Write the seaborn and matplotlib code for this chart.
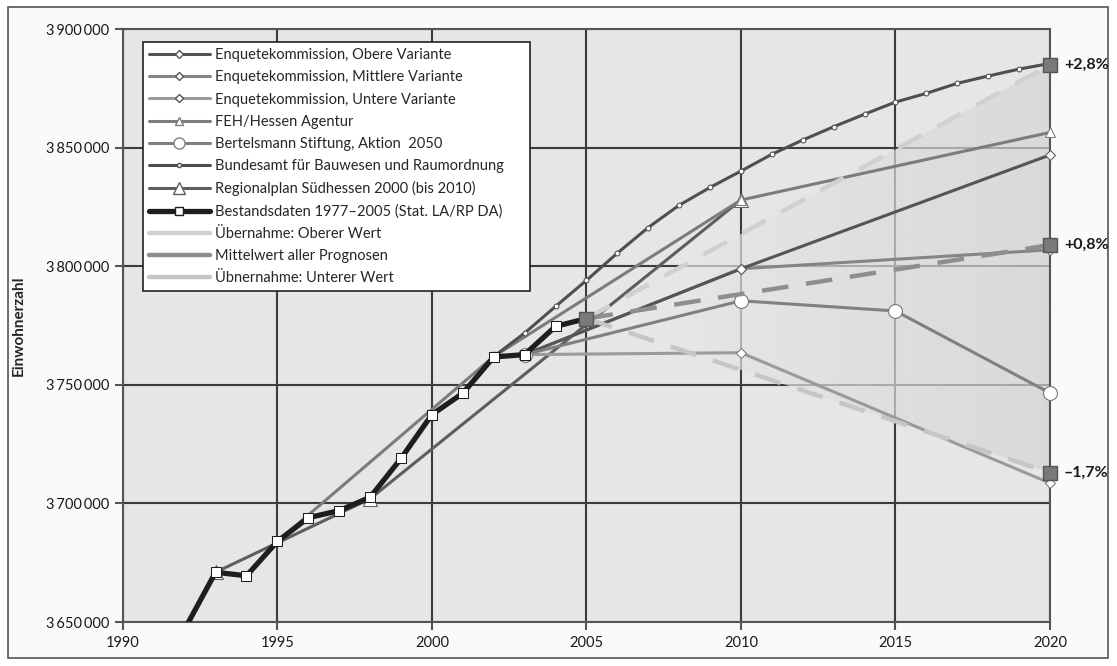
import numpy as np
import seaborn as sns
import matplotlib
import matplotlib.pyplot as plt
from matplotlib.lines import Line2D
from matplotlib.patches import Rectangle
from matplotlib.ticker import FuncFormatter, MultipleLocator
matplotlib.use("Agg")

# Bestandsdaten 1992-2005
best_years = [1992, 1993, 1994, 1995, 1996, 1997, 1998, 1999, 2000, 2001, 2002, 2003, 2004, 2005]
best_vals = [3647000, 3671000, 3669500, 3684000, 3694000, 3697000, 3702600, 3719000,
             3737500, 3746500, 3761800, 3762800, 3774700, 3778000]

# Bundesamt für Bauwesen und Raumordnung (jährlich)
bbr_years = list(range(2002, 2021))
bbr_vals = [3762000, 3771900, 3783100, 3794100, 3805600, 3816400, 3825800, 3833300,
            3840200, 3847300, 3853300, 3858900, 3864200, 3869300, 3873000, 3877200,
            3880300, 3883200, 3885600]

enq_years = [2003, 2010, 2020]
enq_obere = [3762800, 3799000, 3847000]
enq_mittlere = [3762800, 3799000, 3807000]
enq_untere = [3762800, 3763600, 3708600]

feh_years = [1995, 2002, 2010, 2020]
feh_vals = [3684000, 3762000, 3828000, 3856500]

bert_years = [2003, 2010, 2015, 2020]
bert_vals = [3762800, 3785500, 3781200, 3746600]

reg_years = [1993, 1998, 2010]
reg_vals = [3671000, 3702000, 3828000]

trend_years = [2005, 2020]
upper_vals = [3778000, 3885000]
mean_vals = [3778000, 3809000]
lower_vals = [3778000, 3713000]
pct_labels = ["+2,8%", "+0,8%", "\u20131,7%"]

sns.set_style("white")
plt.rcParams["font.family"] = ["Lato", "DejaVu Sans"]

fig = plt.figure(figsize=(11.17, 6.66), dpi=100)
fig.patch.set_facecolor("white")
ax = fig.add_axes([0.110, 0.066, 0.830, 0.890])
ax.set_facecolor("#e6e6e6")

# schattierter Bereich zwischen oberem und unterem Wert
poly = ax.fill_between(trend_years, lower_vals, upper_vals, facecolor="none", edgecolor="none")
grad = np.linspace(0.92, 0.83, 256).reshape(1, -1)
grad = np.vstack([grad, grad])
im = ax.imshow(grad, cmap="gray", vmin=0, vmax=1, aspect="auto",
               extent=[2005, 2020, 3700000, 3890000], alpha=0.7, zorder=0.8,
               interpolation="bicubic")
im.set_clip_path(poly.get_paths()[0], transform=ax.transData)

lw = 2.2
sns.lineplot(x=reg_years, y=reg_vals, ax=ax, color="#5e5e5e", lw=lw, marker="^",
             markersize=10, markerfacecolor="white", markeredgecolor="#5e5e5e", zorder=3)
sns.lineplot(x=feh_years, y=feh_vals, ax=ax, color="#7c7c7c", lw=lw, marker="^",
             markersize=7, markerfacecolor="white", markeredgecolor="#7c7c7c", zorder=3,
             clip_on=False)
sns.lineplot(x=enq_years, y=enq_untere, ax=ax, color="#9a9a9a", lw=lw, marker="D",
             markersize=5, markerfacecolor="white", markeredgecolor="#777777", zorder=3,
             clip_on=False)
sns.lineplot(x=enq_years, y=enq_mittlere, ax=ax, color="#858585", lw=lw, marker="D",
             markersize=5, markerfacecolor="white", markeredgecolor="#777777", zorder=3,
             clip_on=False)
sns.lineplot(x=enq_years, y=enq_obere, ax=ax, color="#555555", lw=lw, marker="D",
             markersize=5, markerfacecolor="white", markeredgecolor="#555555", zorder=3,
             clip_on=False)
sns.lineplot(x=bert_years, y=bert_vals, ax=ax, color="#808080", lw=lw, marker="o",
             markersize=10, markerfacecolor="white", markeredgecolor="#707070", zorder=3,
             clip_on=False)

# Übernahme und Mittelwert (gestrichelt)
sns.lineplot(x=trend_years, y=upper_vals, ax=ax, color="#d0d0d0", lw=3.2,
             dashes=(6, 4), zorder=3.5)
sns.lineplot(x=trend_years, y=lower_vals, ax=ax, color="#c6c6c6", lw=3.2,
             dashes=(6, 4), zorder=3.5)
sns.lineplot(x=trend_years, y=mean_vals, ax=ax, color="#8e8e8e", lw=3.2,
             dashes=(6, 4), zorder=3.5)

sns.lineplot(x=bbr_years, y=bbr_vals, ax=ax, color="#4f4f4f", lw=lw, marker="o",
             markersize=3.5, markerfacecolor="white", markeredgecolor="#4f4f4f", zorder=4,
             clip_on=False)
sns.lineplot(x=best_years, y=best_vals, ax=ax, color="#1e1e1e", lw=3.8, marker="s",
             markersize=6.5, markerfacecolor="white", markeredgecolor="#1e1e1e", zorder=5)

# Endpunkte
end_vals = [upper_vals[-1], mean_vals[-1], lower_vals[-1]]
ax.scatter([trend_years[0]], [mean_vals[0]], marker="s", s=110, color="#7a7a7a",
           edgecolor="#555555", zorder=6, clip_on=False)
ax.scatter([trend_years[-1]] * 3, end_vals, marker="s", s=110, color="#7a7a7a",
           edgecolor="#555555", zorder=6, clip_on=False)
for v, t in zip(end_vals, pct_labels):
    ax.annotate(t, (trend_years[-1], v), xytext=(10, 0), textcoords="offset points",
                va="center", ha="left", fontsize=11.5, fontweight="bold", color="#1a1a1a",
                annotation_clip=False)

ax.set_xlim(1990, 2020)
ax.set_ylim(3650000, 3900000)
ax.xaxis.set_major_locator(MultipleLocator(5))
ax.yaxis.set_major_locator(MultipleLocator(50000))
ax.yaxis.set_major_formatter(FuncFormatter(
    lambda v, p: f"{int(v):,}".replace(",", "\u2009")))
ax.grid(True, color="#3c3c3c", lw=1.5)
ax.set_axisbelow(True)
for s in ax.spines.values():
    s.set_color("#555555")
    s.set_linewidth(1.5)
ax.tick_params(axis="both", which="major", length=6, width=1.5, color="#555555",
               labelsize=10.5, labelcolor="#1a1a1a", direction="out", pad=4,
               bottom=True, left=True)
ax.set_xlabel("")
ax.set_ylabel("Einwohnerzahl", fontsize=11, fontweight="bold", labelpad=14)

# Legende
def h(color, marker=None, ms=5, lw=2.2, mec=None):
    return Line2D([], [], color=color, lw=lw, marker=marker, markersize=ms,
                  markerfacecolor="white", markeredgecolor=mec or color)

handles = [
    h("#555555", "D", 4.5),
    h("#858585", "D", 4.5, mec="#555555"),
    h("#9a9a9a", "D", 4.5, mec="#555555"),
    h("#7c7c7c", "^", 6),
    h("#808080", "o", 8),
    h("#4f4f4f", "o", 3),
    h("#5e5e5e", "^", 8),
    h("#1e1e1e", "s", 6, lw=3.8),
    Line2D([], [], color="#d0d0d0", lw=3.2),
    Line2D([], [], color="#8e8e8e", lw=3.2),
    Line2D([], [], color="#c6c6c6", lw=3.2),
]
labels = [
    "Enquetekommission, Obere Variante",
    "Enquetekommission, Mittlere Variante",
    "Enquetekommission, Untere Variante",
    "FEH/Hessen Agentur",
    "Bertelsmann Stiftung, Aktion  2050",
    "Bundesamt für Bauwesen und Raumordnung",
    "Regionalplan Südhessen 2000 (bis 2010)",
    "Bestandsdaten 1977\u20132005 (Stat. LA/RP DA)",
    "Übernahme: Oberer Wert",
    "Mittelwert aller Prognosen",
    "Übnernahme: Unterer Wert",
]
leg = ax.legend(handles, labels, loc="upper left",
                bbox_to_anchor=(0.0216, 0.0, 0.4175, 0.978), mode="expand",
                fontsize=10.5, frameon=True, fancybox=False, edgecolor="#222222",
                framealpha=1, handlelength=4.2, handletextpad=0.35,
                labelspacing=0.56, borderpad=0.4, borderaxespad=0)
leg.get_frame().set_linewidth(1.2)
leg.set_zorder(10)

# äußerer Rahmen
fig.patches.append(Rectangle((0.007, 0.012), 0.985, 0.977, transform=fig.transFigure,
                             fill=True, facecolor="#fafafa", edgecolor="#555555",
                             lw=1.2, zorder=-1))

fig.savefig("out.png", dpi=100)
